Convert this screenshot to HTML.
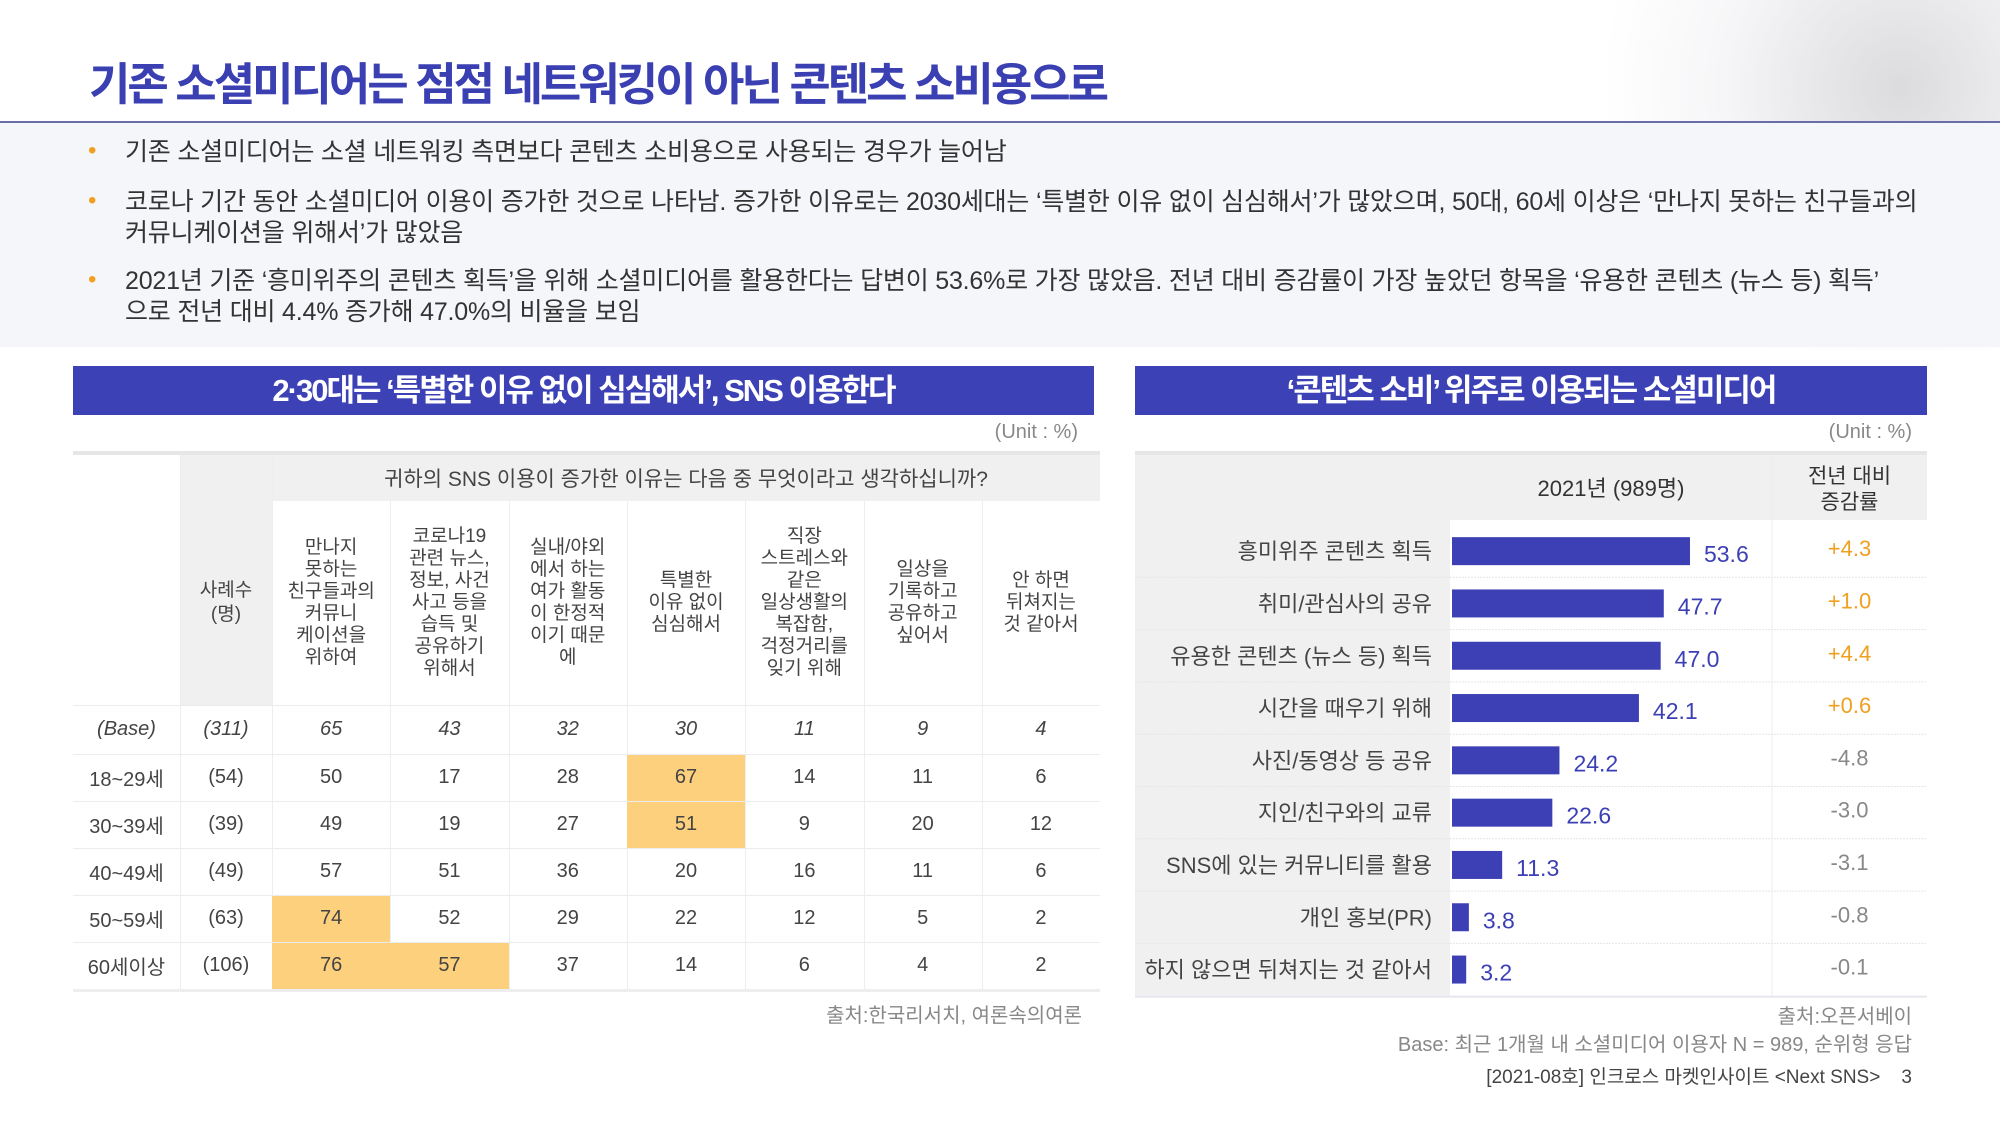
<!DOCTYPE html>
<html lang="ko"><head><meta charset="utf-8">
<style>
*{margin:0;padding:0;box-sizing:border-box}
body{width:2000px;height:1125px;position:relative;background:#fff;font-family:"Liberation Sans","Noto Sans CJK KR",sans-serif;color:#333;overflow:hidden}
.abs{position:absolute}
.deco{position:absolute;left:1600px;top:0;width:400px;height:350px;background:radial-gradient(circle at 75% 25%,rgba(190,190,195,.55),rgba(230,230,235,.35) 45%,rgba(255,255,255,0) 75%)}
.title{left:89px;top:48px;font-size:45px;font-weight:bold;color:#3a3fb2;letter-spacing:-3px}
.hline{left:0;top:121px;width:2000px;height:2px;background:#6a6ea8}
.bulletbg{left:0;top:123px;width:2000px;height:224px;background:#f5f6fa}
.bl{left:125px;font-size:25px;color:#333;line-height:31px;letter-spacing:-0.2px}
.dot{left:88px;font-size:24px;color:#f0a020}
.phead{height:49px;background:#3c41b5;color:#fff;font-size:31px;font-weight:bold;text-align:center;line-height:49px;letter-spacing:-2px}
.unit{font-size:20px;color:#888}
.cell{position:absolute;display:flex;align-items:center;justify-content:center;text-align:center;font-size:20px;color:#444}
.hdr{font-size:19px;line-height:22px;color:#444}
.src{font-size:20px;color:#888;text-align:right}
</style></head><body>
<div class="deco"></div>
<div class="abs title">기존 소셜미디어는 점점 네트워킹이 아닌 콘텐츠 소비용으로</div>
<div class="abs bulletbg"></div>
<div class="abs hline"></div>
<div class="abs dot" style="top:137px">•</div>
<div class="abs bl" style="top:137px">기존 소셜미디어는 소셜 네트워킹 측면보다 콘텐츠 소비용으로 사용되는 경우가 늘어남</div>
<div class="abs dot" style="top:187px">•</div>
<div class="abs bl" style="top:187px;width:1870px">코로나 기간 동안 소셜미디어 이용이 증가한 것으로 나타남. 증가한 이유로는 2030세대는 ‘특별한 이유 없이 심심해서’가 많았으며, 50대, 60세 이상은 ‘만나지 못하는 친구들과의<br>커뮤니케이션을 위해서’가 많았음</div>
<div class="abs dot" style="top:266px">•</div>
<div class="abs bl" style="top:266px;width:1870px">2021년 기준 ‘흥미위주의 콘텐츠 획득’을 위해 소셜미디어를 활용한다는 답변이 53.6%로 가장 많았음. 전년 대비 증감률이 가장 높았던 항목을 ‘유용한 콘텐츠 (뉴스 등) 획득’<br>으로 전년 대비 4.4% 증가해 47.0%의 비율을 보임</div>

<!-- left panel -->
<div class="abs phead" style="left:73px;top:366px;width:1021px">2·30대는 ‘특별한 이유 없이 심심해서’, SNS 이용한다</div>
<div class="abs unit" style="left:900px;top:421px;width:178px;text-align:right">(Unit : %)</div>
<div id="ltable" class="abs" style="left:0;top:0"></div>
<div class="abs src" style="left:700px;top:999px;width:382px">출처:한국리서치, 여론속의여론</div>

<!-- right panel -->
<div class="abs phead" style="left:1135px;top:366px;width:792px">‘콘텐츠 소비’ 위주로 이용되는 소셜미디어</div>
<div class="abs unit" style="left:1700px;top:421px;width:212px;text-align:right">(Unit : %)</div>
<svg id="chart" class="abs" style="left:0;top:0" width="2000" height="1125"></svg>
<div class="abs src" style="left:1500px;top:1000px;width:412px">출처:오픈서베이</div>
<div class="abs src" style="left:1200px;top:1028px;width:712px">Base: 최근 1개월 내 소셜미디어 이용자 N = 989, 순위형 응답</div>
<div class="abs" style="left:1300px;top:1062px;width:612px;text-align:right;font-size:19px;color:#444">[2021-08호] 인크로스 마켓인사이트 &lt;Next SNS&gt; &nbsp;&nbsp;&nbsp;3</div>

<script>
// ---- left table data ----
const colHeaders=["만나지<br>못하는<br>친구들과의<br>커뮤니<br>케이션을<br>위하여","코로나19<br>관련 뉴스,<br>정보, 사건<br>사고 등을<br>습득 및<br>공유하기<br>위해서","실내/야외<br>에서 하는<br>여가 활동<br>이 한정적<br>이기 때문<br>에","특별한<br>이유 없이<br>심심해서","직장<br>스트레스와<br>같은<br>일상생활의<br>복잡함,<br>걱정거리를<br>잊기 위해","일상을<br>기록하고<br>공유하고<br>싶어서","안 하면<br>뒤쳐지는<br>것 같아서"];
const rowLabels=["(Base)","18~29세","30~39세","40~49세","50~59세","60세이상"];
const sampleSizes=["(311)","(54)","(39)","(49)","(63)","(106)"];
const baseRow=[65,43,32,30,11,9,4];
const row1829=[50,17,28,67,14,11,6];
const row3039=[49,19,27,51,9,20,12];
const row4049=[57,51,36,20,16,11,6];
const row5059=[74,52,29,22,12,5,2];
const row60=[76,57,37,14,6,4,2];
const tableRows=[baseRow,row1829,row3039,row4049,row5059,row60];
const highlights=[[1,3],[2,3],[4,0],[5,0],[5,1]];

const L=document.getElementById('ltable');
function add(parent,html,style,name){const d=document.createElement('div');d.className='cell';d.innerHTML=html;d.style.cssText=style;


parent.appendChild(d);return d;}
const X0=73,XS=180,XD=272,CW=118.3,XE=1100;
function bx(x,y,w,h,c,name){const d=document.createElement('div');d.style.cssText=`position:absolute;left:${x}px;top:${y}px;width:${w}px;height:${h}px;background:${c}`;


L.appendChild(d);}
bx(X0,451,XE-X0,4,'#e6e6e6','table-top-rule');
bx(XS,455,XD-XS,250,'#f0f0f0','sample-header-bg');
bx(XD,455,XE-XD,46,'#f0f0f0','question-header-bg');
add(L,'귀하의 SNS 이용이 증가한 이유는 다음 중 무엇이라고 생각하십니까?',`left:${XD}px;top:455px;width:${XE-XD}px;height:46px;font-size:21px`,'question-text');
add(L,'사례수<br>(명)',`left:${XS}px;top:501px;width:${XD-XS}px;height:204px;font-size:19px;line-height:24px`,'sample-size-header');
colHeaders.forEach((h,i)=>{const d=add(L,h,`left:${XD+i*CW}px;top:501px;width:${CW}px;height:204px`,'column-header');d.classList.add('hdr');
if(i>0)bx(XD+i*CW,501,1,488,'#eeeeee','column-divider');});
bx(XS,455,1,534,'#eeeeee','column-divider');bx(XD,455,1,534,'#eeeeee','column-divider');
const RY=705,RH=[49,47,47,47,47,47];
let y=RY;
highlights.forEach(([r,c])=>{let yy=RY;for(let k=0;k<r;k++)yy+=RH[k];bx(XD+c*CW,yy,CW,RH[r],'#fdd07e','highlight-cell');});
tableRows.forEach((row,r)=>{
  bx(X0,y,XE-X0,1,'#ececec','row-divider');
  const it=r===0?'font-style:italic;':'';
  add(L,rowLabels[r],`left:${X0}px;top:${y}px;width:${XS-X0}px;height:${RH[r]}px;${it}`,'row-label');
  add(L,sampleSizes[r],`left:${XS}px;top:${y}px;width:${XD-XS}px;height:${RH[r]}px;${it}`,'sample-size');
  row.forEach((v,c)=>add(L,String(v),`left:${XD+c*CW}px;top:${y}px;width:${CW}px;height:${RH[r]}px;${it}`,'table-value'));
  y+=RH[r];
});
bx(X0,y,XE-X0,3,'#eeeeee','table-bottom-rule');

// ---- right bar chart data ----
const categories=["흥미위주 콘텐츠 획득","취미/관심사의 공유","유용한 콘텐츠 (뉴스 등) 획득","시간을 때우기 위해","사진/동영상 등 공유","지인/친구와의 교류","SNS에 있는 커뮤니티를 활용","개인 홍보(PR)","하지 않으면 뒤쳐지는 것 같아서"];
const values2021=[53.6,47.7,47.0,42.1,24.2,22.6,11.3,3.8,3.2];
const changes=[4.3,1.0,4.4,0.6,-4.8,-3.0,-3.1,-0.8,-0.1];

const NS='http://www.w3.org/2000/svg';
const S=document.getElementById('chart');
function el(t,a,name){const e=document.createElementNS(NS,t);for(const k in a)e.setAttribute(k,a[k]);


S.appendChild(e);return e;}
const CL=1135,CB=1450,CC=1772,CR=1927,TOP=525,RHh=52.3;
const xScale=v=>CB+2+v*4.44;
const yRow=i=>TOP+i*RHh;
el('rect',{x:CL,y:451,width:CR-CL,height:4,fill:'#e6e6e6'},'chart-top-rule');
el('rect',{x:CL,y:455,width:CR-CL,height:65,fill:'#f0f0f0'},'chart-header-bg');
el('rect',{x:CL,y:520,width:CB-CL,height:yRow(categories.length)-520,fill:'#f0f0f0'},'label-column-bg');
let t=el('text',{x:(CB+CC)/2,y:496,'text-anchor':'middle','font-size':22,fill:'#333'},'year-header');t.textContent='2021년 (989명)';
t=el('text',{x:(CC+CR)/2,y:483,'text-anchor':'middle','font-size':21,fill:'#333'},'change-header');t.textContent='전년 대비';
t=el('text',{x:(CC+CR)/2,y:509,'text-anchor':'middle','font-size':21,fill:'#333'},'change-header');t.textContent='증감률';
el('line',{x1:CC,y1:455,x2:CC,y2:yRow(categories.length),stroke:'#ececec'},'column-divider');
categories.forEach((c,i)=>{
  const y0=yRow(i),cy=y0+RHh/2;
  if(i>0)el('line',{x1:CL,y1:y0,x2:CR,y2:y0,stroke:'#e6e6e6','stroke-dasharray':'2,1'},'row-divider');
  let tx=el('text',{x:CB-18,y:cy+8,'text-anchor':'end','font-size':22,fill:'#444'},'category-label');tx.textContent=c;
  el('rect',{x:CB+2,y:cy-14,width:xScale(values2021[i])-CB-2,height:28,fill:'#3c40b4'},'bar');
  tx=el('text',{x:xScale(values2021[i])+14,y:cy+11,'font-size':23,fill:'#3c40b4'},'value-label');tx.textContent=values2021[i].toFixed(1);
  const ch=changes[i];
  tx=el('text',{x:(CC+CR)/2,y:cy+5,'text-anchor':'middle','font-size':22,fill:ch>=0?'#f0a020':'#888'},'change-value');tx.textContent=(ch>=0?'+':'')+ch.toFixed(1);
});
el('rect',{x:CL,y:yRow(categories.length),width:CR-CL,height:2,fill:'#e6e6ee'},'chart-bottom-rule');
</script>
</body></html>
